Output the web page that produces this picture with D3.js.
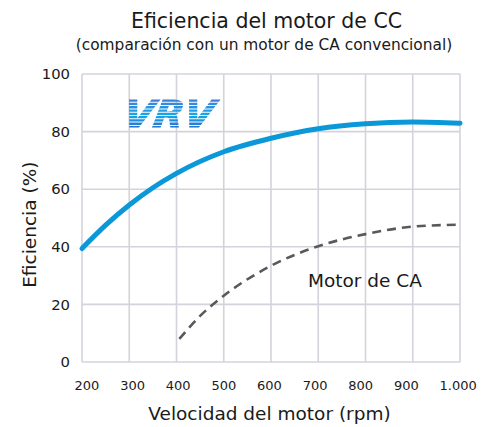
<!DOCTYPE html>
<html>
<head>
<meta charset="utf-8">
<script src="https://cdn.jsdelivr.net/npm/d3@7/dist/d3.min.js"></script>
<style>
  html, body { margin: 0; padding: 0; background: #fff; }
  svg { display: block; font-family: "DejaVu Sans", "Noto Sans", sans-serif; }
</style>
</head>
<body>
<svg id="chart" width="487" height="427"></svg>
<script>
// Motor speed (rpm) and efficiency (%) for the DC motor
const dcSpeed = [200, 250, 300, 350, 400, 500, 600, 700, 800, 900, 1000];
const dcEfficiency = [39.4, 47.5, 54.5, 60.5, 65.5, 73, 77.7, 81, 82.7, 83.3, 82.9];

// Conventional AC motor for comparison
const acSpeed = [406, 450, 500, 600, 700, 800, 900, 1000];
const acEfficiency = [8, 16, 23, 33.4, 40.2, 44.4, 47, 47.7];

const xTicks = [200, 300, 400, 500, 600, 700, 800, 900, 1000];
const xTickLabels = ["200", "300", "400", "500", "600", "700", "800", "900", "1.000"];
const yTicks = [0, 20, 40, 60, 80, 100];

const svg = d3.select("#chart");
const margin = { left: 82, right: 27, top: 74, bottom: 65 };
const W = 487, H = 427;
const ink = "#1a1a1a";

const x = d3.scaleLinear().domain([200, 1000]).range([margin.left, W - margin.right]);
const y = d3.scaleLinear().domain([0, 100]).range([H - margin.bottom, margin.top]);

// Grid
const grid = svg.append("g").attr("stroke", "#d3d3db").attr("stroke-width", 1.6);
grid.selectAll("line.v").data(xTicks).join("line")
  .attr("x1", d => x(d)).attr("x2", d => x(d))
  .attr("y1", y(0)).attr("y2", y(100));
grid.selectAll("line.h").data(yTicks).join("line")
  .attr("x1", x(200)).attr("x2", x(1000))
  .attr("y1", d => y(d)).attr("y2", d => y(d));

// X tick labels sit on their own evenly spaced, left-aligned row
const xLabelScale = d3.scalePoint().domain(xTickLabels).range([74, 439]);
const xAxis = d3.axisBottom(xLabelScale).tickSize(0).tickPadding(19);
svg.append("g").attr("transform", `translate(0,${y(0)})`).call(xAxis)
  .call(g => g.select(".domain").remove())
  .call(g => g.selectAll("text").attr("font-size", 13).attr("fill", ink)
    .attr("text-anchor", "start")
    .attr("font-family", "DejaVu Sans, sans-serif"));

const yAxis = d3.axisLeft(y).tickValues(yTicks).tickSize(0).tickPadding(12);
svg.append("g").attr("transform", `translate(${x(200)},0)`).call(yAxis)
  .call(g => g.select(".domain").remove())
  .call(g => g.selectAll("text").attr("font-size", 14.8).attr("fill", ink)
    .attr("font-family", "DejaVu Sans, sans-serif"));

// VRV logo: striped italic lettering
const defs = svg.append("defs");
const logoGrad = defs.append("linearGradient").attr("id", "vrvFill")
  .attr("gradientUnits", "userSpaceOnUse")
  .attr("x1", 0).attr("y1", 100).attr("x2", 0).attr("y2", 128);
logoGrad.append("stop").attr("offset", "0%").attr("stop-color", "#3f7fd8");
logoGrad.append("stop").attr("offset", "55%").attr("stop-color", "#14a8e8");
logoGrad.append("stop").attr("offset", "100%").attr("stop-color", "#2a70cc");
const stripeMask = defs.append("mask").attr("id", "stripeMask");
stripeMask.append("rect").attr("x", 0).attr("y", 0).attr("width", 487).attr("height", 427).attr("fill", "#fff");
for (let yy = 101.8; yy < 130; yy += 3.3) {
  stripeMask.append("rect").attr("x", 0).attr("y", yy).attr("width", 487).attr("height", 1).attr("fill", "#000");
}
svg.append("text")
  .attr("x", 122).attr("y", 127)
  .attr("font-family", "DejaVu Sans, sans-serif")
  .attr("font-weight", 900).attr("font-style", "italic")
  .attr("font-size", 37)
  .attr("textLength", 90).attr("lengthAdjust", "spacingAndGlyphs")
  .attr("transform", "translate(0,127) skewX(-10) translate(0,-127)")
  .attr("fill", "url(#vrvFill)")
  .attr("stroke", "url(#vrvFill)").attr("stroke-width", 1.2)
  .attr("mask", "url(#stripeMask)")
  .text("VRV");

// Lines
const line = d3.line().curve(d3.curveMonotoneX);
svg.append("path")
  .attr("d", line(acSpeed.map((s, i) => [x(s), y(acEfficiency[i])])))
  .attr("fill", "none").attr("stroke", "#595959").attr("stroke-width", 2.6)
  .attr("stroke-dasharray", "9,6");
svg.append("path")
  .attr("d", line(dcSpeed.map((s, i) => [x(s), y(dcEfficiency[i])])))
  .attr("fill", "none").attr("stroke", "#0b98d8").attr("stroke-width", 5)
  .attr("stroke-linecap", "round");

// Series label
svg.append("text").attr("x", 308).attr("y", 286.7)
  .attr("font-size", 18.5).attr("fill", ink).text("Motor de CA");

// Titles
svg.append("text").attr("x", 266.5).attr("y", 27.7).attr("text-anchor", "middle")
  .attr("font-size", 20.5).attr("fill", ink).text("Eficiencia del motor de CC");
svg.append("text").attr("x", 264).attr("y", 50).attr("text-anchor", "middle")
  .attr("font-size", 15.4).attr("fill", ink).text("(comparación con un motor de CA convencional)");

svg.append("text").attr("x", 269.5).attr("y", 420).attr("text-anchor", "middle")
  .attr("font-size", 18.5).attr("fill", ink).text("Velocidad del motor (rpm)");
svg.append("text")
  .attr("transform", `translate(36,224.7) rotate(-90)`)
  .attr("text-anchor", "middle")
  .attr("font-size", 18.5).attr("fill", ink).text("Eficiencia (%)");
</script>
</body>
</html>
